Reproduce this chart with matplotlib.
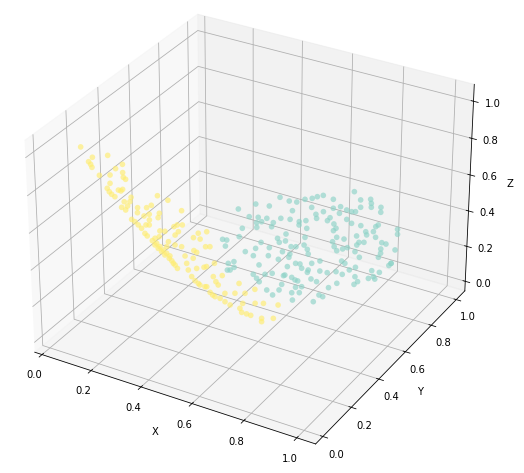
import numpy as np
import matplotlib
matplotlib.use('Agg')
import matplotlib.pyplot as plt

yellow_x = [.073,.119,.181,.103,.111,.116,.239,.211,.145,.188,.239,.241,.250,.187,.175,.183,.192,.205,.220,.237,.230,.375,.416,.270,.265,.255,.231,.242,.247,.295,.294,.331,.350,.469,.381,.376,.341,.320,.341,.270,.283,.296,.309,.322,.331,.327,.340,.382,.402,.438,.451,.471,.442,.379,.362,.351,.361,.374,.387,
 .400,.417,.433,.449,.427,.415,.441,.408,.467,.566,.533,.514,.540,.561,.578,.515,.480,.512,.526,.486,.492,.525,.554,.564,.595,.505,.518,.537,.557,.590,.600,.609,.625,.690,.577,.596,.616,.635,.655,.674,.713,.751,.704,.693,.700,.719,.735,.752,.784,.777,.822,.777,.635,.455,.368,.381,.394,.407,.420,.440,.587,.564,.531,.840]
yellow_z = [1.006,.969,1.002,.940,.929,.915,.977,.944,.884,.902,.934,.910,.903,.858,.827,.812,.802,.794,.835,.845,.834,.865,.857,.816,.791,.764,.748,.782,.740,.771,.744,.785,.805,.823,.775,.750,.754,.737,.724,.699,.692,.680,.667,.645,.635,.692,.697,.682,.688,.727,.741,.749,.684,.650,.635,.618,.599,.586,.574,.561,.550,.530,.509,.541,.638,.631,.609,.632,.751,.730,.699,.702,.670,.677,.631,.588,.589,.626,.551,.518,.540,.558,.566,.596,.488,.471,.456,.455,.523,.500,.486,.543,.528,.433,.418,.417,.407,.398,.469,.485,.522,.427,.396,.377,.377,.376,.448,.461,.378,.397,.360,.452,.707,.610,.598,.585,.573,.564,.523,.423,.458,.462,.476]
teal_x = [.440,.389,.438,.482,.509,.525,.544,.554,.568,.613,.652,.700,.729,.745,.758,.725,.788,.804,.353,.414,.444,.474,.517,.549,.526,.574,.661,.644,.625,.611,.627,.680,.691,.712,.724,.723,.751,.666,.668,.585,.596,.602,.458,.470,.475,.509,.518,.434,.631,.699,.720,.720,.787,.822,.835,.845,.838,.836,.911,.927,.454,.413,.428,.445,.587,.576,.595,.609,.540,.544,.583,.656,.679,.660,.645,.703,.721,.524,.562,.607,.636,.666,.674,.649,.610,.700,.714,.729,.748,.762,.779,.773,.778,.811,.838,.861,.895,.905,.844,.861,.885,.854,.752,.780,.754,.775,.796,.808,.818,.838,.836,.851,.808,.870,.906,.923,.923,.936,.942,.969,.999,.999,.999,.964,.992,.933,.888,.987,.978,.999,.956,.954,.900,.889,.835,.810,.718,.659,.677,.624,.647,.666,.748,.766,.777,.741,.715,.748,.751,.791,.807,.797,.819,.884,.900,.822,.888,.524,.513,.544,.541,.533,.720]
teal_y = [.820,.734,.746,.813,.820,.852,.871,.891,.910,.903,.990,.948,.970,.945,.920,.901,.937,.905,.672,.644,.656,.665,.690,.700,.758,.813,.869,.846,.807,.777,.753,.825,.859,.857,.864,.800,.784,.781,.758,.702,.681,.720,.620,.635,.592,.650,.622,.561,.674,.749,.726,.707,.786,.757,.739,.771,.821,.806,.828,.797,.505,.460,.463,.425,.603,.562,.541,.560,.509,.464,.492,.616,.568,.544,.536,.548,.522,.427,.417,.443,.491,.490,.469,.439,.373,.412,.445,.449,.427,.473,.501,.428,.413,.442,.445,.466,.499,.525,.538,.530,.591,.617,.672,.674,.638,.611,.591,.612,.628,.660,.680,.689,.715,.740,.718,.717,.678,.652,.624,.697,.610,.593,.609,.533,.536,.469,.461,.501,.482,.489,.445,.423,.400,.361,.375,.381,.353,.329,.347,.309,.292,.277,.357,.348,.347,.300,.243,.225,.264,.307,.321,.270,.283,.303,.300,.230,.256,.349,.329,.316,.294,.289,.359]
yellow_depth = 0.10
teal_height = 0.40
tick_vals = [0.0, 0.2, 0.4, 0.6, 0.8, 1.0]

ny = min(len(yellow_x), len(yellow_z))
nt = min(len(teal_x), len(teal_y))
xs = np.r_[teal_x[:nt], yellow_x[:ny]]
ys = np.r_[teal_y[:nt], np.full(ny, yellow_depth)]
zs = np.r_[np.full(nt, teal_height), yellow_z[:ny]]
labels = np.r_[np.zeros(nt), np.ones(ny)]
# x readings were taken against slightly wider limits; re-express them for the final x limits
xs = -0.05292 + (xs + 0.07333) * 1.14583 / 1.16667

W, H = 524, 473
fig = plt.figure(figsize=(W/72, H/72), dpi=72)
S = 500; cx = 247; cy = 225.5
ax = fig.add_axes([(cx-S/2)/W, (H-cy-S/2)/H, S/W, S/H], projection='3d')
ax.scatter(xs, ys, zs, c=labels, cmap='Set3', s=32, depthshade=False, alpha=0.65, linewidths=0)
ax.set_xlim(-0.03, 1.07); ax.set_ylim(-0.05, 1.07); ax.set_zlim(-0.055, 1.09)
ax.set_xticks(tick_vals); ax.set_yticks(tick_vals); ax.set_zticks(tick_vals)
ax.set_xlabel('X'); ax.set_ylabel('Y'); ax.set_zlabel('Z')
fig.savefig('out.png', dpi=72)
